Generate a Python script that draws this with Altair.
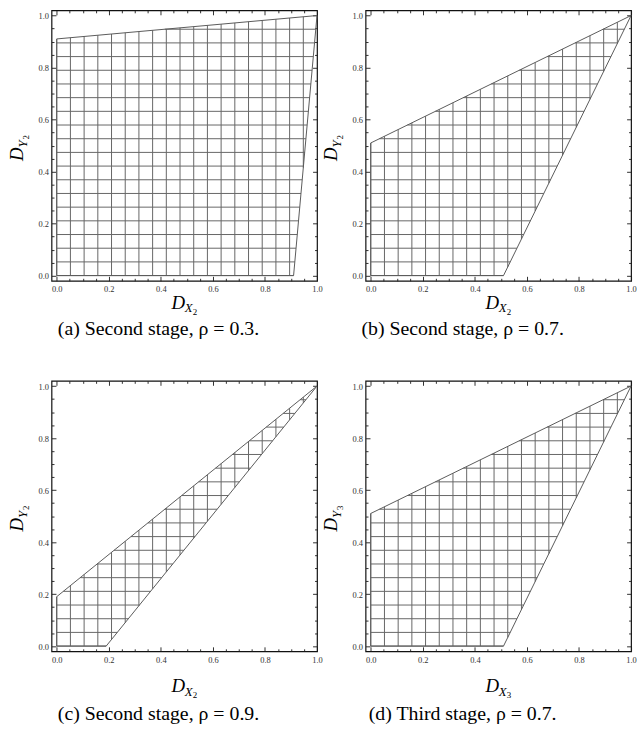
import altair as alt
import pandas as pd

SERIF = "Liberation Serif"

# Corners of the four shaded regions, counter-clockwise from the origin
region_a_x = [0.0, 0.91, 1.0, 0.0]
region_a_y = [0.0, 0.0, 1.0, 0.91]
region_b_x = [0.0, 0.51, 1.0, 0.0]
region_b_y = [0.0, 0.0, 1.0, 0.51]
region_c_x = [0.0, 0.19, 1.0, 0.0]
region_c_y = [0.0, 0.0, 1.0, 0.19]
region_d_x = [0.0, 0.51, 1.0, 0.0]
region_d_y = [0.0, 0.0, 1.0, 0.51]
regions = [(region_a_x, region_a_y), (region_b_x, region_b_y),
           (region_c_x, region_c_y), (region_d_x, region_d_y)]

x_index = ["2", "2", "2", "3"]
y_index = ["2", "2", "2", "3"]
captions = [
    "(a) Second stage, ρ = 0.3.",
    "(b) Second stage, ρ = 0.7.",
    "(c) Second stage, ρ = 0.9.",
    "(d) Third stage, ρ = 0.7.",
]

major_ticks = [0.0, 0.2, 0.4, 0.6, 0.8, 1.0]
minor_ticks = [0.0, 0.05, 0.1, 0.15, 0.2, 0.25, 0.3, 0.35, 0.4, 0.45, 0.5,
               0.55, 0.6, 0.65, 0.7, 0.75, 0.8, 0.85, 0.9, 0.95, 1.0]

# Hatching: mesh lines every 1/19 of the unit square
mesh_levels = [k / 19 for k in range(20)]

W, H = 268, 273
X_DOMAIN = [-0.02, 1.0]
Y_DOMAIN = [-0.02, 1.02]
MESH = "#666666"
EDGE = "#5a5a5a"
MAJOR = "abs(datum.value * 5 - round(datum.value * 5)) < 0.001"


def chord(vx, vy, t, vertical):
    """Extent of the line x=t (vertical) or y=t inside the convex polygon."""
    a, b = (vx, vy) if vertical else (vy, vx)
    hits = []
    n = len(a)
    for i in range(n):
        j = (i + 1) % n
        a0, a1, b0, b1 = a[i], a[j], b[i], b[j]
        if abs(a1 - a0) < 1e-12:
            if abs(a0 - t) < 1e-12:
                hits += [b0, b1]
        elif min(a0, a1) - 1e-12 <= t <= max(a0, a1) + 1e-12:
            hits.append(b0 + (t - a0) / (a1 - a0) * (b1 - b0))
    if len(hits) < 2 or max(hits) - min(hits) < 1e-9:
        return None
    return min(hits), max(hits)


def mesh_frame(vx, vy):
    rows = []
    for t in mesh_levels:
        c = chord(vx, vy, t, True)
        if c:
            rows.append({"x0": t, "x1": t, "y0": c[0], "y1": c[1]})
        c = chord(vx, vy, t, False)
        if c:
            rows.append({"x0": c[0], "x1": c[1], "y0": t, "y1": t})
    return pd.DataFrame(rows)


def tick_axis(orient, offset):
    # inward-pointing ticks: the axis is moved onto the opposite edge
    return alt.Axis(orient=orient, offset=offset, values=minor_ticks,
                    labels=False, domain=False, grid=False, ticks=True,
                    tickColor="#1a1a1a", tickWidth=0.9,
                    tickSize={"condition": {"test": MAJOR, "value": 4.5}, "value": 2.5},
                    title=None)


def label_axis(orient):
    return alt.Axis(orient=orient, values=major_ticks, format=".1f",
                    labels=True, ticks=False, domain=False, grid=False,
                    labelFont=SERIF, labelFontSize=8.5, labelColor="#333333",
                    labelPadding=4 if orient == "bottom" else 3,
                    labelFlush=False, title=None)


def text_piece(s, x, y, size, italic, angle=0, align="left"):
    return alt.Chart(pd.DataFrame({"s": [s]})).mark_text(
        font=SERIF, fontSize=size, fontStyle="italic" if italic else "normal",
        align=align, baseline="alphabetic", angle=angle, color="black",
    ).encode(x=alt.value(x), y=alt.value(y), text="s:N")


def panel(i, title_gap, caption_gap, caption_x):
    vx, vy = regions[i]
    xs = alt.Scale(domain=X_DOMAIN, nice=False, zero=False)
    ys = alt.Scale(domain=Y_DOMAIN, nice=False, zero=False)

    mesh = alt.Chart(mesh_frame(vx, vy)).mark_rule(color=MESH, strokeWidth=1).encode(
        x=alt.X("x0:Q", scale=xs, axis=label_axis("bottom")),
        x2="x1:Q",
        y=alt.Y("y0:Q", scale=ys, axis=label_axis("left")),
        y2="y1:Q",
    )

    outline_df = pd.DataFrame({"x": vx + vx[:1], "y": vy + vy[:1],
                               "k": list(range(len(vx) + 1))})
    outline = alt.Chart(outline_df).mark_line(color=EDGE, strokeWidth=1).encode(
        x=alt.X("x:Q", scale=xs, axis=tick_axis("top", -H)),
        y=alt.Y("y:Q", scale=ys, axis=tick_axis("right", -W)),
        order="k:Q",
    )
    corners = alt.Chart(outline_df).mark_point(opacity=0).encode(
        x=alt.X("x:Q", scale=xs, axis=tick_axis("bottom", -H)),
        y=alt.Y("y:Q", scale=ys, axis=tick_axis("left", -W)),
    )

    # axis titles D_{X_i} and D_{Y_i}
    tx, ty = 121, H + title_gap
    x_title = [
        text_piece("D", tx, ty, 19, True),
        text_piece("X", tx + 13.5, ty + 4, 13, True),
        text_piece(x_index[i], tx + 21.5, ty + 6.5, 9, False),
    ]
    ly, lx = 152, -29
    y_title = [
        text_piece("D", lx, ly, 19, True, angle=270),
        text_piece("Y", lx + 4, ly - 13.5, 13, True, angle=270),
        text_piece(y_index[i], lx + 6.5, ly - 21.5, 9, False, angle=270),
    ]
    caption = text_piece(captions[i], caption_x, H + caption_gap, 20, False, align="center")

    return alt.layer(mesh, outline, corners, *x_title, *y_title, caption).resolve_axis(
        x="independent", y="independent"
    ).properties(width=W, height=H)


chart = alt.concat(
    panel(0, 28, 55, 108), panel(1, 28, 55, 98),
    panel(2, 41, 69, 108), panel(3, 41, 69, 98),
    columns=2, spacing={"row": 101, "column": 49}, bounds="flush",
).properties(
    padding={"left": 7, "top": 5, "right": 0, "bottom": 0}
).configure_view(stroke="#111111", strokeWidth=1.2)

chart.save("out.html", embed_options={"renderer": "svg", "actions": False})
